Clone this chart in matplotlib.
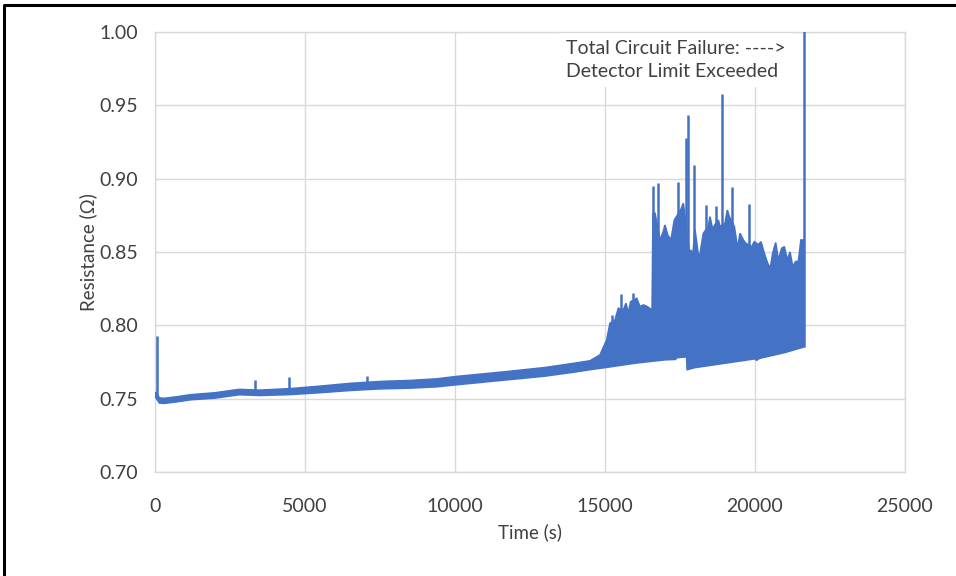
import numpy as np
import matplotlib
matplotlib.use('Agg')
from matplotlib import pyplot as plt
from matplotlib.lines import Line2D

# upper edge of the resistance trace (time s, resistance ohm)
upper_t = [20, 150, 300, 700, 1200, 2000, 2800, 3500, 4500, 5500, 6500, 7500, 8500, 9400,
           10000, 10800, 11800, 13000, 14000, 14500, 14833, 15056, 15167, 15333, 15444,
           15611, 15700, 15778, 15856, 16056, 16167, 16278, 16411, 16570, 16600, 16667,
           16833, 16944, 17000, 17089, 17200, 17311, 17522, 17611, 17690, 17820, 17867,
           17920, 18000, 18133, 18278, 18444, 18500, 18578, 18778, 18833, 19000, 19078,
           19144, 19311, 19422, 19500, 19611, 19689, 19889, 19978, 20111, 20200, 20311,
           20422, 20511, 20589, 20689, 20778, 20889, 20978, 21078, 21167, 21256, 21356,
           21444, 21533, 21620]
upper_r = [0.7545, 0.7505, 0.7502, 0.7512, 0.7527, 0.7540, 0.7563, 0.7558, 0.7568, 0.7585,
           0.7604, 0.7617, 0.7624, 0.7635, 0.7650, 0.7666, 0.7686, 0.7712, 0.7742, 0.7758,
           0.7798, 0.7900, 0.8014, 0.8036, 0.8116, 0.8105, 0.8150, 0.8082, 0.8161, 0.8184,
           0.8127, 0.8139, 0.8127, 0.8105, 0.8760, 0.8764, 0.8582, 0.8639, 0.8684, 0.8616,
           0.8582, 0.8718, 0.8786, 0.8832, 0.8700, 0.8490, 0.8514, 0.8460, 0.8650, 0.8445,
           0.8627, 0.8673, 0.8741, 0.8660, 0.8718, 0.8673, 0.8695, 0.8786, 0.8741, 0.8673,
           0.8525, 0.8627, 0.8582, 0.8560, 0.8536, 0.8570, 0.8550, 0.8570, 0.8490, 0.8423,
           0.8389, 0.8490, 0.8564, 0.8445, 0.8525, 0.8536, 0.8445, 0.8500, 0.8400, 0.8435,
           0.8435, 0.8582, 0.8582]

# lower edge of the resistance trace
lower_t = [20, 150, 300, 700, 1200, 2000, 2800, 3500, 4500, 5500, 6500, 7500, 8500, 9400,
           10000, 10800, 11800, 13000, 14000, 14500, 15000, 16000, 17000, 17350, 17400,
           17720, 17740, 18000, 19000, 20000, 20050, 20150, 21000, 21620]
lower_r = [0.7510, 0.7470, 0.7468, 0.7478, 0.7493, 0.7504, 0.7527, 0.7522, 0.7528, 0.7541,
           0.7556, 0.7567, 0.7572, 0.7581, 0.7594, 0.7610, 0.7630, 0.7654, 0.7682, 0.7698,
           0.7712, 0.7742, 0.7765, 0.7768, 0.7780, 0.7785, 0.7698, 0.7712, 0.7742, 0.7772,
           0.7762, 0.7775, 0.7815, 0.7852]

# single-sample spikes
spike_t = [50, 3333, 4467, 7067, 15244, 15533, 15944, 16589, 16756, 17444, 17700, 17780,
           17980, 18356, 18689, 18911, 19222, 19800, 21620]
spike_base = [0.750, 0.754, 0.754, 0.759, 0.780, 0.782, 0.783, 0.785, 0.786, 0.787, 0.787,
              0.780, 0.781, 0.782, 0.782, 0.783, 0.784, 0.785, 0.785]
spike_top = [0.793, 0.7627, 0.765, 0.7655, 0.807, 0.8214, 0.8218, 0.895, 0.8973, 0.898,
             0.9275, 0.9434, 0.9093, 0.882, 0.8814, 0.9577, 0.8941, 0.8827, 1.05]

blue = '#4472C4'
grey = '#d9d9d9'
txt = '#404040'
plt.rcParams['font.family'] = ['Lato', 'DejaVu Sans']

fig = plt.figure(figsize=(9.56, 5.76), dpi=100)
ax = fig.add_axes([155/956, 1-472/576, 750/956, 440/576])

poly_t = np.concatenate([upper_t, lower_t[::-1]])
poly_r = np.concatenate([upper_r, lower_r[::-1]])
ax.fill(poly_t, poly_r, color=blue, lw=1.2, zorder=3)
ax.vlines(spike_t, spike_base, spike_top, color=blue, lw=1.8, zorder=3)

ax.set_xlim(0, 25000)
ax.set_ylim(0.70, 1.00)
ax.set_xticks(np.arange(0, 25001, 5000))
ax.set_yticks(np.arange(0.70, 1.001, 0.05))
ax.yaxis.set_major_formatter(matplotlib.ticker.FormatStrFormatter('%.2f'))
ax.grid(True, color=grey, lw=1, zorder=0)
ax.set_axisbelow(True)
for s in ax.spines.values():
    s.set_color(grey)
    s.set_linewidth(1)
ax.tick_params(length=0, labelsize=14, colors=txt, pad=12)
ax.tick_params(axis='x', pad=19)
ax.set_xlabel('Time (s)', fontsize=13.5, color=txt, labelpad=6)
ax.set_ylabel('Resistance (Ω)', fontsize=13.5, color=txt, labelpad=2)

ax.text(13700, 0.981, 'Total Circuit Failure: ---->\nDetector Limit Exceeded',
        fontsize=14, color=txt, va='center', ha='left', linespacing=1.4, zorder=5,
        clip_on=False, bbox=dict(fc='white', ec='none', pad=5))

fig.add_artist(Line2D([4/956, 4/956, 1], [0, 1-5/576, 1-5/576],
                      transform=fig.transFigure, color='black', lw=2.2))

plt.savefig('out.png', dpi=100)
